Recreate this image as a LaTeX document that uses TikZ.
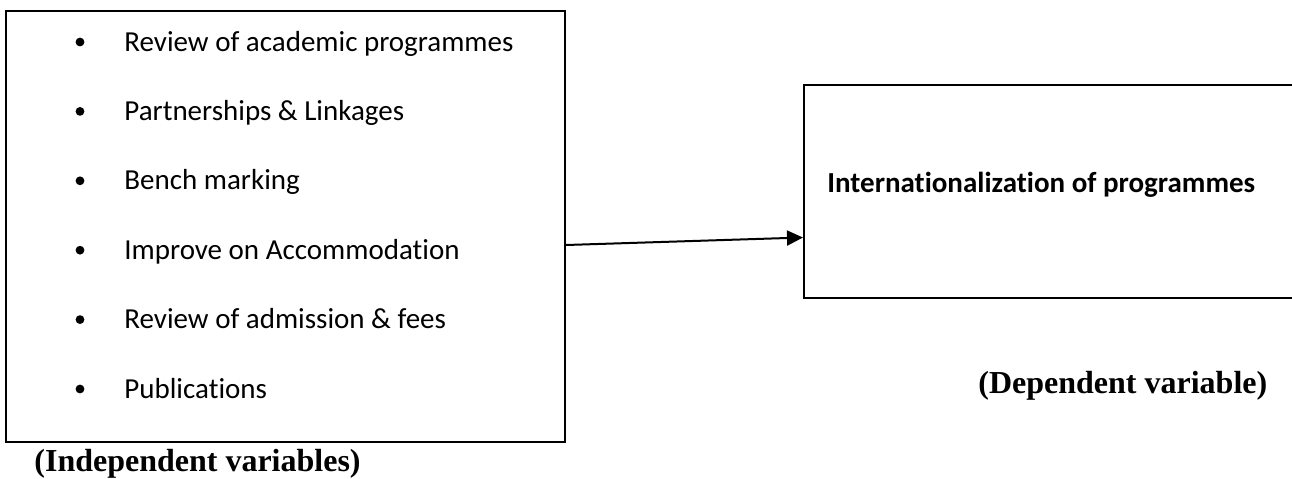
\documentclass[tikz,border=0pt]{standalone}
\usepackage{fontspec}
\setmainfont{Carlito}[Ligatures=NoCommon]
\newfontfamily\labelfont{Liberation Serif}
\usetikzlibrary{arrows.meta}

\begin{document}
\begin{tikzpicture}[x=0.5pt,y=-0.5pt,
    box/.style={draw,line width=1pt,inner sep=0pt},
    item/.style={anchor=base west,inner sep=0pt,font=\fontsize{14.5}{17}\selectfont},
    varlabel/.style={anchor=base west,inner sep=0pt,font=\labelfont\bfseries\fontsize{16}{19}\selectfont}]
        \useasboundingbox (0,0) rectangle (1292,478);
        % boxes
        \node[box,minimum width=279.5pt,minimum height=215.5pt] (ivbox) at (285.5,226.5) {};
        \node[box,minimum width=250pt,minimum height=106.5pt] (dvbox) at (1054,191.5) {};
        % list of factors
        \foreach \txt [count=\i] in {Review of academic programmes, Partnerships \& Linkages, Bench marking, Improve on Accommodation, Review of admission \& fees, Publications}
        {
            \fill (80, 51+69.4*\i-69.4-9) circle (2.2pt);
            \node[item] (item\i) at (124, 51+69.4*\i-69.4) {\txt};
        }
        \node[item,font=\fontsize{14.5}{17}\selectfont\bfseries] (dvtext) at (827,192) {Internationalization of programmes};
        \draw[line width=1pt,-{Triangle[length=8pt,width=7.5pt]}] ([yshift=-9.25pt]ivbox.east) -- ([yshift=-23pt]dvbox.west);
        \node[varlabel] (ivlabel) at (34,471) {(Independent variables)};
        \node[varlabel] (dvlabel) at (978,393) {(Dependent variable)};
    \end{tikzpicture}
\end{document}
